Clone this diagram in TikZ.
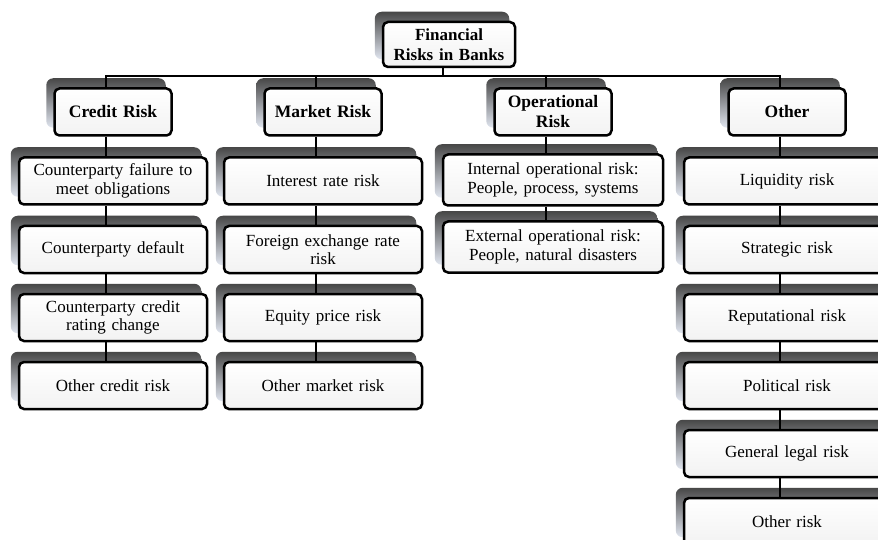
\documentclass[tikz,border=0pt]{standalone}
\usepackage{fontspec}
\setmainfont{Liberation Serif}[WordSpace=1.35]
\pgfdeclarelayer{bg}
\pgfdeclarelayer{shadow}
\pgfdeclarelayer{lines}
\pgfsetlayers{bg,shadow,lines,main}
\tikzset{
  box/.style={draw=black, line width=2.5pt, rounded corners=5pt, top color=white, bottom color=black!5,
    align=center, inner sep=1pt, font=\fontsize{17}{18.5}\selectfont},
  hdr/.style={box, font=\bfseries\fontsize{17.5}{20}\selectfont, minimum width=117pt, minimum height=47pt},
  kidcr/.style={box, minimum width=188pt, minimum height=47pt},
  kidmk/.style={box, minimum width=198pt, minimum height=47pt},
  kidop/.style={box, minimum width=220pt, minimum height=51pt},
  kidot/.style={box, minimum width=206pt, minimum height=47pt},
  conn/.style={draw=black, line width=2.7pt},
  shadowbox/.style={top color=black!72, middle color={rgb,255:red,150;green,158;blue,175}, bottom color={rgb,255:red,225;green,230;blue,240}, rounded corners=7pt}
}
\begin{document}
\begin{tikzpicture}[x=1pt,y=-1pt]
\useasboundingbox (0,0) rectangle (878,540);
\begin{pgfonlayer}{bg}
\fill[white] (0,0) rectangle (878,540);
\end{pgfonlayer}

% root and headers
\node[hdr, minimum width=132pt, minimum height=45pt, font=\bfseries\fontsize{17}{20}\selectfont] (root) at (449,44.5) {Financial\\Risks in Banks};
\node[hdr] (cr) at (113,112) {Credit Risk};
\node[hdr] (mk) at (323,112) {Market Risk};
\node[hdr] (op) at (553,112) {Operational\\Risk};
\node[hdr] (ot) at (787,112) {Other};

% credit column
\node[kidcr] (cr1) at (113,181) {Counterparty failure to\\meet obligations};
\node[kidcr] (cr2) at (113,249.5) {Counterparty default};
\node[kidcr] (cr3) at (113,317.5) {Counterparty credit\\rating change};
\node[kidcr] (cr4) at (113,385.5) {Other credit risk};

% market column
\node[kidmk] (mk1) at (323,181) {Interest rate risk};
\node[kidmk] (mk2) at (323,249.5) {Foreign exchange rate\\risk};
\node[kidmk] (mk3) at (323,317.5) {Equity price risk};
\node[kidmk] (mk4) at (323,385.5) {Other market risk};

% operational column
\node[kidop] (op1) at (553,180) {Internal operational risk:\\People, process, systems};
\node[kidop] (op2) at (553,247) {External operational risk:\\People, natural disasters};

% other column
\node[kidot] (ot1) at (787,181) {Liquidity risk};
\node[kidot] (ot2) at (787,249.5) {Strategic risk};
\node[kidot] (ot3) at (787,317.5) {Reputational risk};
\node[kidot] (ot4) at (787,385.5) {Political risk};
\node[kidot] (ot5) at (787,453.5) {General legal risk};
\node[kidot] (ot6) at (787,521.5) {Other risk};

% shadows
\begin{pgfonlayer}{shadow}
\foreach \n in {root,cr,mk,op,ot,cr1,cr2,cr3,cr4,mk1,mk2,mk3,mk4,op1,op2,ot1,ot2,ot3,ot4,ot5,ot6}
  \shade[shadowbox] ([shift={(-7pt,9pt)}]\n.north west) rectangle ([shift={(-7pt,9pt)}]\n.south east);
\end{pgfonlayer}

% connectors
\begin{pgfonlayer}{lines}
\coordinate (busL) at (106,76);
\coordinate (busR) at (780,76);
\draw[conn] ([xshift=-7pt]cr.north) -- (busL) -- (busR) -- ([xshift=-7pt]ot.north);
\draw[conn] ([xshift=-6pt]root.south) -- ([xshift=-6pt]root.south |- busL);
\draw[conn] ([xshift=-7pt]mk.north) -- ([xshift=-7pt]mk.north |- busL);
\draw[conn] ([xshift=-7pt]op.north) -- ([xshift=-7pt]op.north |- busL);
\draw[conn] ([xshift=-7pt]cr.south) -- ([xshift=-7pt]cr1.north);
\draw[conn] ([xshift=-7pt]cr1.south) -- ([xshift=-7pt]cr2.north);
\draw[conn] ([xshift=-7pt]cr2.south) -- ([xshift=-7pt]cr3.north);
\draw[conn] ([xshift=-7pt]cr3.south) -- ([xshift=-7pt]cr4.north);
\draw[conn] ([xshift=-7pt]mk.south) -- ([xshift=-7pt]mk1.north);
\draw[conn] ([xshift=-7pt]mk1.south) -- ([xshift=-7pt]mk2.north);
\draw[conn] ([xshift=-7pt]mk2.south) -- ([xshift=-7pt]mk3.north);
\draw[conn] ([xshift=-7pt]mk3.south) -- ([xshift=-7pt]mk4.north);
\draw[conn] ([xshift=-7pt]op.south) -- ([xshift=-7pt]op1.north);
\draw[conn] ([xshift=-7pt]op1.south) -- ([xshift=-7pt]op2.north);
\draw[conn] ([xshift=-7pt]ot.south) -- ([xshift=-7pt]ot1.north);
\draw[conn] ([xshift=-7pt]ot1.south) -- ([xshift=-7pt]ot2.north);
\draw[conn] ([xshift=-7pt]ot2.south) -- ([xshift=-7pt]ot3.north);
\draw[conn] ([xshift=-7pt]ot3.south) -- ([xshift=-7pt]ot4.north);
\draw[conn] ([xshift=-7pt]ot4.south) -- ([xshift=-7pt]ot5.north);
\draw[conn] ([xshift=-7pt]ot5.south) -- ([xshift=-7pt]ot6.north);
\end{pgfonlayer}
\end{tikzpicture}
\end{document}
